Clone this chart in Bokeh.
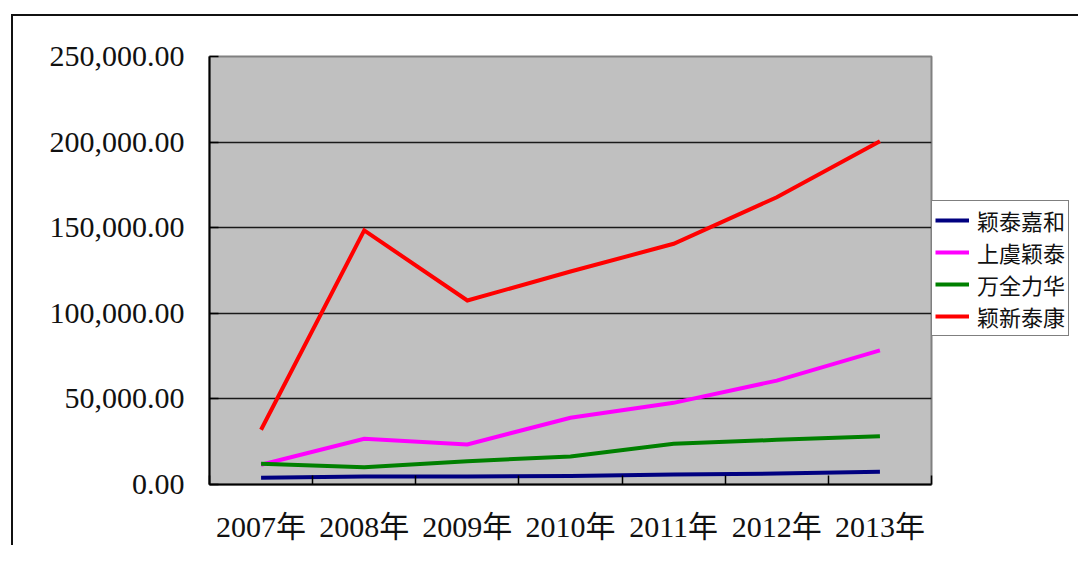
from bokeh.plotting import figure
from bokeh.models import (Range1d, FixedTicker, NumeralTickFormatter, Legend, LegendItem,
                          InlineStyleSheet)
from bokeh.embed import file_html
from bokeh.resources import INLINE

years = ["2007年", "2008年", "2009年", "2010年", "2011年", "2012年", "2013年"]
yingtai_jiahe = [3900, 4700, 4700, 5000, 5800, 6400, 7400]
shangyu_yingtai = [11500, 26700, 23400, 39000, 47700, 60700, 78300]
wanquan_lihua = [12100, 10100, 13600, 16400, 23800, 26100, 28200]
yingxin_taikang = [32000, 148400, 107500, 124400, 140600, 167800, 200500]
series_names = ["颖泰嘉和", "上虞颖泰", "万全力华", "颖新泰康"]
series_colors = ["#000080", "#FF00FF", "#008000", "#FF0000"]
y_ticks = [0, 50000, 100000, 150000, 200000, 250000]

n = len(years)
xs = [i + 0.5 for i in range(n)]

p = figure(frame_width=722, frame_height=428, output_backend="svg", toolbar_location=None,
           x_range=Range1d(0, n), y_range=Range1d(y_ticks[0], y_ticks[-1]),
           min_border_left=209, min_border_right=139, min_border_top=56, min_border_bottom=61)
p.background_fill_color = "#C0C0C0"
p.border_fill_color = "white"
p.outline_line_color = "#808080"
p.outline_line_width = 2

# outer chart-area border (left and top edges visible)
p.stylesheets = [InlineStyleSheet(css=(
    ":host { position: relative; }"
    ":host::after { content: ''; position: absolute; left: 11px; top: 14px; right: 0; bottom: 0;"
    " border-left: 2px solid #111; border-top: 2px solid #111; pointer-events: none; }"))]

# x axis: labels at category centres, small inward ticks at category boundaries
xa = p.xaxis[0]
xa.ticker = FixedTicker(ticks=xs, minor_ticks=list(range(n + 1)))
xa.major_label_overrides = {x: y for x, y in zip(xs, years)}
xa.major_tick_in = 0
xa.major_tick_out = 0
xa.minor_tick_in = 9
xa.minor_tick_out = 0
xa.minor_tick_line_color = "black"
xa.minor_tick_line_width = 1.5
xa.axis_line_color = "black"
xa.axis_line_width = 2
xa.major_label_text_font = "'Liberation Serif', 'Noto Sans CJK SC'"
xa.major_label_text_font_size = "30px"
xa.major_label_text_color = "#111111"
xa.major_label_standoff = 25

ya = p.yaxis[0]
ya.ticker = FixedTicker(ticks=y_ticks, minor_ticks=[])
ya.formatter = NumeralTickFormatter(format="0,0.00")
ya.major_tick_in = 9
ya.major_tick_out = 0
ya.major_tick_line_color = "black"
ya.major_tick_line_width = 1.5
ya.minor_tick_in = 0
ya.minor_tick_out = 0
ya.axis_line_color = "black"
ya.axis_line_width = 2
ya.major_label_text_font = "'Liberation Serif', 'Noto Sans CJK SC'"
ya.major_label_text_font_size = "30px"
ya.major_label_text_color = "#111111"
ya.major_label_standoff = 25

p.xgrid.grid_line_color = None
p.ygrid.ticker = FixedTicker(ticks=y_ticks[1:-1])
p.ygrid.grid_line_color = "#1a1a1a"
p.ygrid.grid_line_width = 1.5

renderers = []
for vals, col in zip([yingtai_jiahe, shangyu_yingtai, wanquan_lihua, yingxin_taikang], series_colors):
    r = p.line(xs, vals, line_color=col, line_width=4, line_join="miter")
    renderers.append(r)

legend = Legend(items=[LegendItem(label=nm, renderers=[r]) for nm, r in zip(series_names, renderers)],
                location=(0, 148))
legend.label_text_font = "'Liberation Serif', 'Noto Sans CJK SC'"
legend.label_text_font_size = "22px"
legend.label_text_color = "#111111"
legend.label_standoff = 8
legend.glyph_width = 34
legend.glyph_height = 26
legend.label_height = 26
legend.spacing = 0
legend.padding = 3
legend.margin = 0
legend.border_line_color = "black"
legend.border_line_width = 1
legend.background_fill_color = "white"
legend.background_fill_alpha = 1
p.add_layout(legend, "right")

open("out.html", "w").write(file_html(p, INLINE))
